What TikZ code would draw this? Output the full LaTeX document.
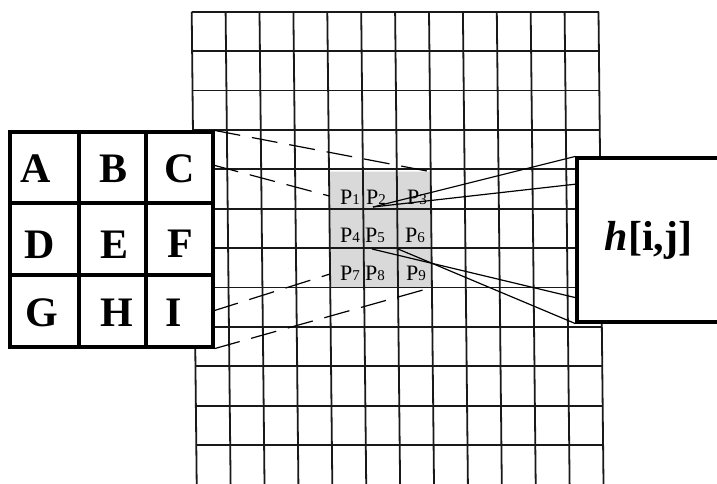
\documentclass[tikz,border=0pt]{standalone}
\usepackage{fontspec}
\setmainfont{Liberation Serif}
\newcommand\plab[1]{P{\fontsize{15}{15}\selectfont #1}}
\begin{document}
\begin{tikzpicture}[x=1pt,y=-1pt,
  gridline/.style={line width=1.8pt,black!90},
  boxline/.style={line width=3.2pt},
  dashline/.style={line width=1.2pt,dash pattern=on 26pt off 12pt},
  solidline/.style={line width=1.2pt},
  letter/.style={font=\fontsize{42}{42}\selectfont\bfseries, inner sep=0pt},
  plabel/.style={font=\fontsize{22}{22}\selectfont, inner sep=0pt, anchor=base},
]
\useasboundingbox (0,0) rectangle (717,484);
\def\sk{0.0106}
% shaded 3x3 patch
\coordinate (pNW) at (329.0,171.7);
\coordinate (pNE) at (430.7,171.7);
\coordinate (pSE) at (431.9,287.5);
\coordinate (pSW) at (330.2,287.5);
\fill[black!15] (pNW) -- (pNE) -- (pSE) -- (pSW) -- cycle;
% grid
\foreach \k in {0,...,12} \draw[gridline] ({191.7+33.9*\k},11.7) -- ({196.7+33.9*\k},484);
\foreach \j in {0,...,11} {
  \pgfmathsetmacro\yy{11.7+39.4*\j}
  \draw[gridline] ({191.7+\sk*(\yy-11.7)},\yy) -- ({191.7+406.8+\sk*(\yy-11.7)},\yy);
}
% P labels
\node[plabel] (P1) at (350,204) {\plab{1}};
\node[plabel] (P2) at (376,204) {\plab{2}};
\node[plabel] (P3) at (417,204) {\plab{3}};
\node[plabel] (P4) at (350,242) {\plab{4}};
\node[plabel] (P5) at (375,242) {\plab{5}};
\node[plabel] (P6) at (415,242) {\plab{6}};
\node[plabel] (P7) at (350,280) {\plab{7}};
\node[plabel] (P8) at (375,280) {\plab{8}};
\node[plabel] (P9) at (416,280) {\plab{9}};
% kernel box
\node[draw, boxline, fill=white, minimum width=203pt, minimum height=215pt, inner sep=0pt] (K) at (111.5,239.5) {};
\draw[boxline] (79,132) -- (79,347);
\draw[boxline] (146,132) -- (146,347);
\draw[boxline] (10,203) -- (213,203);
\draw[boxline] (10,275) -- (213,275);
\node[letter] (A) at (36,169) {A};
\node[letter] (B) at (114,169) {B};
\node[letter] (C) at (180,169) {C};
\node[letter] (D) at (40,245) {D};
\node[letter] (E) at (115,245) {E};
\node[letter] (F) at (180,244) {F};
\node[letter] (G) at (42,313) {G};
\node[letter] (H) at (117,313) {H};
\node[letter] (I) at (174,313) {I};
% output box
\node[draw, boxline, fill=white, minimum width=143pt, minimum height=164pt, inner sep=0pt,
      font=\fontsize{42}{42}\selectfont\bfseries] (Hb) at (648.5,240) {\textit{h}[i,j]};
% connector end points
\coordinate (kC) at (213,165);
\coordinate (kI) at (213,311);
\coordinate (p1w) at (329.3,196);
\coordinate (p7w) at (330,274);
\coordinate (c2) at (373,207);
\coordinate (c5) at (372,249);
\coordinate (c6) at (398,249);
\coordinate (hA) at (577,184);
\coordinate (hB) at (577,298);
% connectors
\draw[dashline] (K.north east) -- (pNE);
\draw[dashline] (kC) -- (p1w);
\draw[dashline] (kI) -- (p7w);
\draw[dashline] (K.south east) -- (pSE);
\draw[solidline] (c2) -- (Hb.north west);
\draw[solidline] (c2) -- (hA);
\draw[solidline] (c5) -- (hB);
\draw[solidline] (c6) -- (Hb.south west);
\end{tikzpicture}
\end{document}
